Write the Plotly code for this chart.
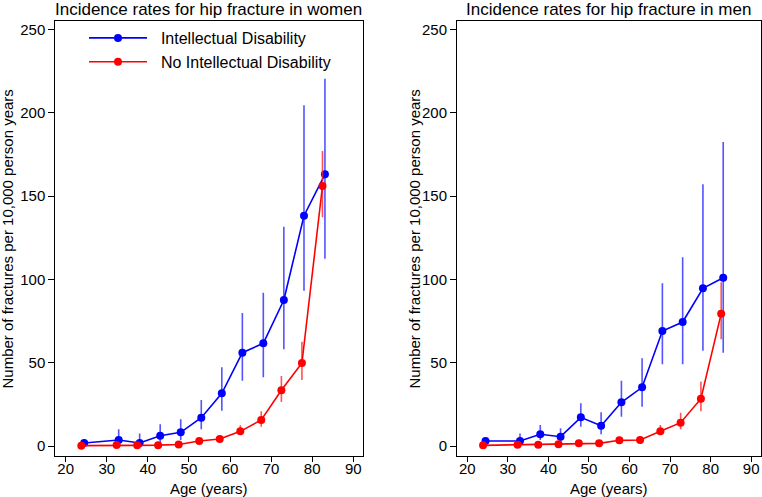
import plotly.graph_objects as go
import numpy as np

# Women
w_id_age = [24.5, 32.9, 38.0, 43.0, 48.0, 53.0, 58.0, 63.0, 68.1, 73.1, 78.0, 83.1]
w_id_val = [1.8, 3.6, 1.8, 6.2, 8.2, 17.0, 31.6, 56.0, 61.6, 87.6, 138.2, 163.0]
w_id_lo = [0.2, 0.6, 0.2, 2.0, 3.6, 10.0, 21.2, 39.2, 41.2, 58.0, 93.2, 112.4]
w_id_hi = [4.2, 10.0, 7.5, 13.0, 16.0, 27.6, 47.2, 79.8, 92.0, 131.6, 204.4, 220.4]

w_no_age = [23.8, 32.4, 37.4, 42.5, 47.5, 52.5, 57.5, 62.5, 67.6, 72.5, 77.5, 82.5]
w_no_val = [0.2, 0.6, 0.4, 0.5, 0.9, 3.0, 4.2, 8.8, 15.6, 33.4, 49.8, 156.0]
w_no_lo = [0.1, 0.3, 0.2, 0.3, 0.5, 2.0, 3.2, 6.6, 11.6, 26.4, 39.6, 137.2]
w_no_hi = [0.5, 1.1, 0.8, 0.9, 1.5, 4.3, 6.4, 12.4, 20.8, 42.0, 62.6, 177.0]

# Men
m_id_age = [24.5, 33.0, 38.0, 43.0, 48.0, 53.0, 58.0, 63.1, 68.1, 73.1, 78.1, 83.1]
m_id_val = [3.0, 3.0, 7.0, 5.6, 17.2, 12.2, 26.2, 35.2, 69.0, 74.4, 94.6, 101.0]
m_id_lo = [1.0, 0.6, 3.6, 1.8, 11.6, 7.0, 17.6, 23.6, 49.0, 49.0, 57.2, 56.0]
m_id_hi = [5.0, 7.5, 12.6, 10.6, 25.6, 20.2, 39.2, 52.6, 97.6, 113.2, 157.0, 182.4]

m_no_age = [23.9, 32.4, 37.5, 42.5, 47.5, 52.5, 57.5, 62.6, 67.6, 72.6, 77.6, 82.6]
m_no_val = [0.4, 0.8, 0.8, 1.0, 1.6, 1.6, 3.4, 3.6, 8.8, 14.0, 28.4, 79.4]
m_no_lo = [0.2, 0.5, 0.5, 0.6, 1.0, 1.0, 2.4, 2.6, 6.6, 10.0, 20.8, 64.0]
m_no_hi = [0.7, 1.2, 1.2, 1.4, 2.3, 2.3, 4.6, 5.0, 12.6, 20.0, 38.6, 98.2]

x_ticks = [20, 30, 40, 50, 60, 70, 80, 90]
y_ticks = [0, 50, 100, 150, 200, 250]

BLUE = "rgb(0,0,255)"
RED = "rgb(255,0,0)"
FONT = "Liberation Sans, Arial, sans-serif"
W, H = 762, 497

fig = go.Figure()

def add(age, val, lo, hi, color, ecolor, name, xa, ya, show):
    v = np.array(val); l = np.array(lo); h = np.array(hi)
    fig.add_trace(go.Scatter(
        x=age, y=val, mode="lines+markers", name=name,
        line=dict(color=color, width=1.6),
        marker=dict(color=color, size=8),
        error_y=dict(type="data", symmetric=False, array=list(h - v),
                     arrayminus=list(v - l), color=ecolor, thickness=1.6, width=0),
        xaxis=xa, yaxis=ya, showlegend=show))

NB = "\u00a0\u00a0"
add(w_id_age, w_id_val, w_id_lo, w_id_hi, BLUE, "rgba(40,40,255,0.8)", NB + "Intellectual Disability", "x", "y", True)
add(w_no_age, w_no_val, w_no_lo, w_no_hi, RED, "rgba(255,40,40,0.8)", NB + "No Intellectual Disability", "x", "y", True)
add(m_id_age, m_id_val, m_id_lo, m_id_hi, BLUE, "rgba(40,40,255,0.8)", "Intellectual Disability", "x2", "y2", False)
add(m_no_age, m_no_val, m_no_lo, m_no_hi, RED, "rgba(255,40,40,0.8)", "No Intellectual Disability", "x2", "y2", False)

L1, R1 = 55.3, 362.7
L2, R2 = 457.0, 760.5
TOP, BOT = 20.7, 456.0

ydom = [1 - BOT / H, 1 - TOP / H]
xcommon = dict(range=[17.47, 92.29], tickvals=x_ticks, ticks="outside", ticklen=5,
               tickcolor="black", showline=True, linecolor="black", linewidth=1,
               mirror=True, showgrid=False, zeroline=False, ticklabelstandoff=-6,
               tickfont=dict(size=15, color="black", family=FONT), automargin=False)
ycommon = dict(range=[-6, 255.2], tickvals=y_ticks, ticks="outside", ticklen=6,
               tickcolor="black", showline=True, linecolor="black", linewidth=1,
               mirror=True, showgrid=False, zeroline=False,
               tickfont=dict(size=15, color="black", family=FONT), automargin=False)

def px(x):
    return x / W

def py(y):
    return 1 - y / H

ann_font = dict(size=15, color="black", family=FONT)
annotations = [
    dict(text="Incidence rates for hip fracture in women", x=px((L1 + R1) / 2), y=py(9),
         font=dict(size=17, color="black", family=FONT)),
    dict(text="Incidence rates for hip fracture in men", x=px((L2 + R2) / 2), y=py(9),
         font=dict(size=17, color="black", family=FONT)),
    dict(text="Age (years)", x=px((L1 + R1) / 2), y=py(488), font=ann_font),
    dict(text="Age (years)", x=px((L2 + R2) / 2), y=py(488), font=ann_font),
    dict(text="Number of fractures per 10,000 person years", x=px(7.5), y=py(239),
         textangle=-90, font=ann_font),
    dict(text="Number of fractures per 10,000 person years", x=px(414.5), y=py(239),
         textangle=-90, font=ann_font),
]
for a in annotations:
    a.update(xref="paper", yref="paper", showarrow=False, xanchor="center", yanchor="middle")

fig.update_layout(
    width=W, height=H,
    margin=dict(l=0, r=0, t=0, b=0),
    paper_bgcolor="white", plot_bgcolor="white",
    font=dict(family=FONT, color="black"),
    xaxis=dict(domain=[px(L1), px(R1)], anchor="y", **xcommon),
    yaxis=dict(domain=ydom, anchor="x", **ycommon),
    xaxis2=dict(domain=[px(L2), px(R2)], anchor="y2", **xcommon),
    yaxis2=dict(domain=ydom, anchor="x2", **ycommon),
    legend=dict(x=px(84), y=py(21), xanchor="left", yanchor="top",
                bgcolor="rgba(0,0,0,0)", font=dict(size=16, color="black", family=FONT),
                tracegroupgap=0, itemwidth=58),
    annotations=annotations,
)

fig.write_html("out.html", config={"displayModeBar": False},
               post_script="document.body.style.margin='0px';")
